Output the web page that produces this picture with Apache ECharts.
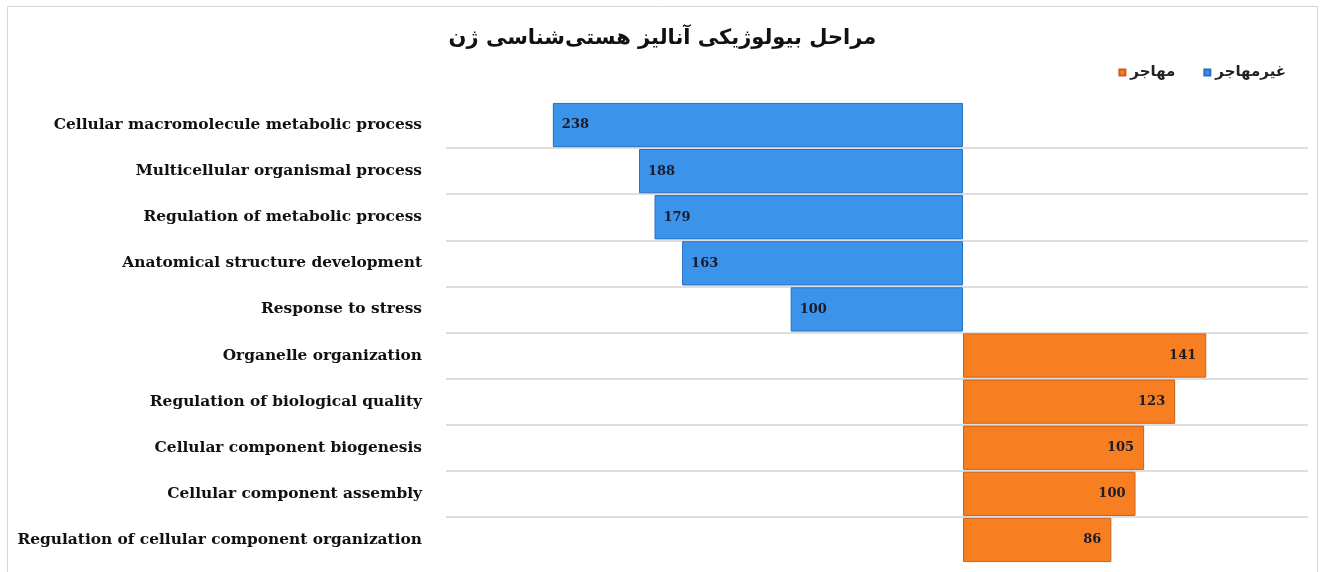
<!DOCTYPE html>
<html>
<head>
<meta charset="utf-8">
<script src="https://cdn.jsdelivr.net/npm/echarts@6/dist/echarts.min.js"></script>
<style>
  html, body { margin: 0; padding: 0; background: #ffffff; }
  #chart { width: 1325px; height: 572px; }
</style>
</head>
<body>
<div id="chart"></div>
<script>
// Gene ontology biological processes, split by group
const categories = [
  'Cellular macromolecule metabolic process',
  'Multicellular organismal process',
  'Regulation of metabolic process',
  'Anatomical structure development',
  'Response to stress',
  'Organelle organization',
  'Regulation of biological quality',
  'Cellular component biogenesis',
  'Cellular component assembly',
  'Regulation of cellular component organization'
];
const nonMigrantName = 'غیرمهاجر';
const migrantName = 'مهاجر';
const nonMigrantValues = [238, 188, 179, 163, 100, null, null, null, null, null];
const migrantValues = [null, null, null, null, null, 141, 123, 105, 100, 86];
const titleText = 'مراحل بیولوژیکی آنالیز هستی‌شناسی ژن';

const chart = echarts.init(document.getElementById('chart'), null, { renderer: 'canvas' });

const splitLineStyle = { color: '#dedede', width: 2 };
const labelFont = { fontFamily: 'DejaVu Serif', fontWeight: 'bold', fontSize: 13, color: '#1b1b2b' };

chart.setOption({
  backgroundColor: '#ffffff',
  animation: false,
  title: {
    text: titleText,
    left: 'center',
    top: 23,
    textStyle: { fontFamily: 'DejaVu Sans', fontWeight: 'bold', fontSize: 21, color: '#111111' }
  },
  legend: {
    data: [migrantName, nonMigrantName],
    right: 34,
    top: 60,
    itemWidth: 6,
    itemHeight: 6,
    itemGap: 28,
    icon: 'rect',
    textStyle: { fontFamily: 'DejaVu Sans', fontWeight: 'bold', fontSize: 15, color: '#222222' }
  },
  graphic: [{
    type: 'rect',
    shape: { x: 7.5, y: 6.5, width: 1310, height: 600 },
    style: { fill: 'none', stroke: '#d6d6d6', lineWidth: 1 },
    silent: true,
    z: -1
  }],
  grid: [
    { left: 446, top: 102, width: 517, bottom: 9 },
    { left: 963, top: 102, right: 17, bottom: 9 }
  ],
  xAxis: [
    { gridIndex: 0, type: 'value', inverse: true, min: 0, max: 300, show: false },
    { gridIndex: 1, type: 'value', min: 0, max: 200, show: false }
  ],
  yAxis: [
    {
      gridIndex: 0, type: 'category', data: categories, inverse: true,
      axisLine: { show: false }, axisTick: { show: false },
      axisLabel: { margin: 24, interval: 0, fontFamily: 'DejaVu Serif', fontWeight: 'bold', fontSize: 15.4, color: '#111111' },
      splitLine: { show: true, interval: 0, showMinLine: false, showMaxLine: false, lineStyle: splitLineStyle }
    },
    {
      gridIndex: 1, type: 'category', data: categories, inverse: true,
      axisLine: { show: false }, axisTick: { show: false }, axisLabel: { show: false },
      splitLine: { show: true, interval: 0, showMinLine: false, showMaxLine: false, lineStyle: splitLineStyle }
    }
  ],
  series: [
    {
      name: nonMigrantName,
      type: 'bar',
      xAxisIndex: 0,
      yAxisIndex: 0,
      data: nonMigrantValues,
      barCategoryGap: '4%',
      itemStyle: { color: '#3b93ea', borderColor: '#2570c2', borderWidth: 1 },
      label: { show: true, position: 'insideLeft', distance: 9, ...labelFont }
    },
    {
      name: migrantName,
      type: 'bar',
      xAxisIndex: 1,
      yAxisIndex: 1,
      data: migrantValues,
      barCategoryGap: '4%',
      itemStyle: { color: '#f77f21', borderColor: '#c9601a', borderWidth: 1 },
      label: { show: true, position: 'insideRight', distance: 10, ...labelFont }
    }
  ]
});
</script>
</body>
</html>
